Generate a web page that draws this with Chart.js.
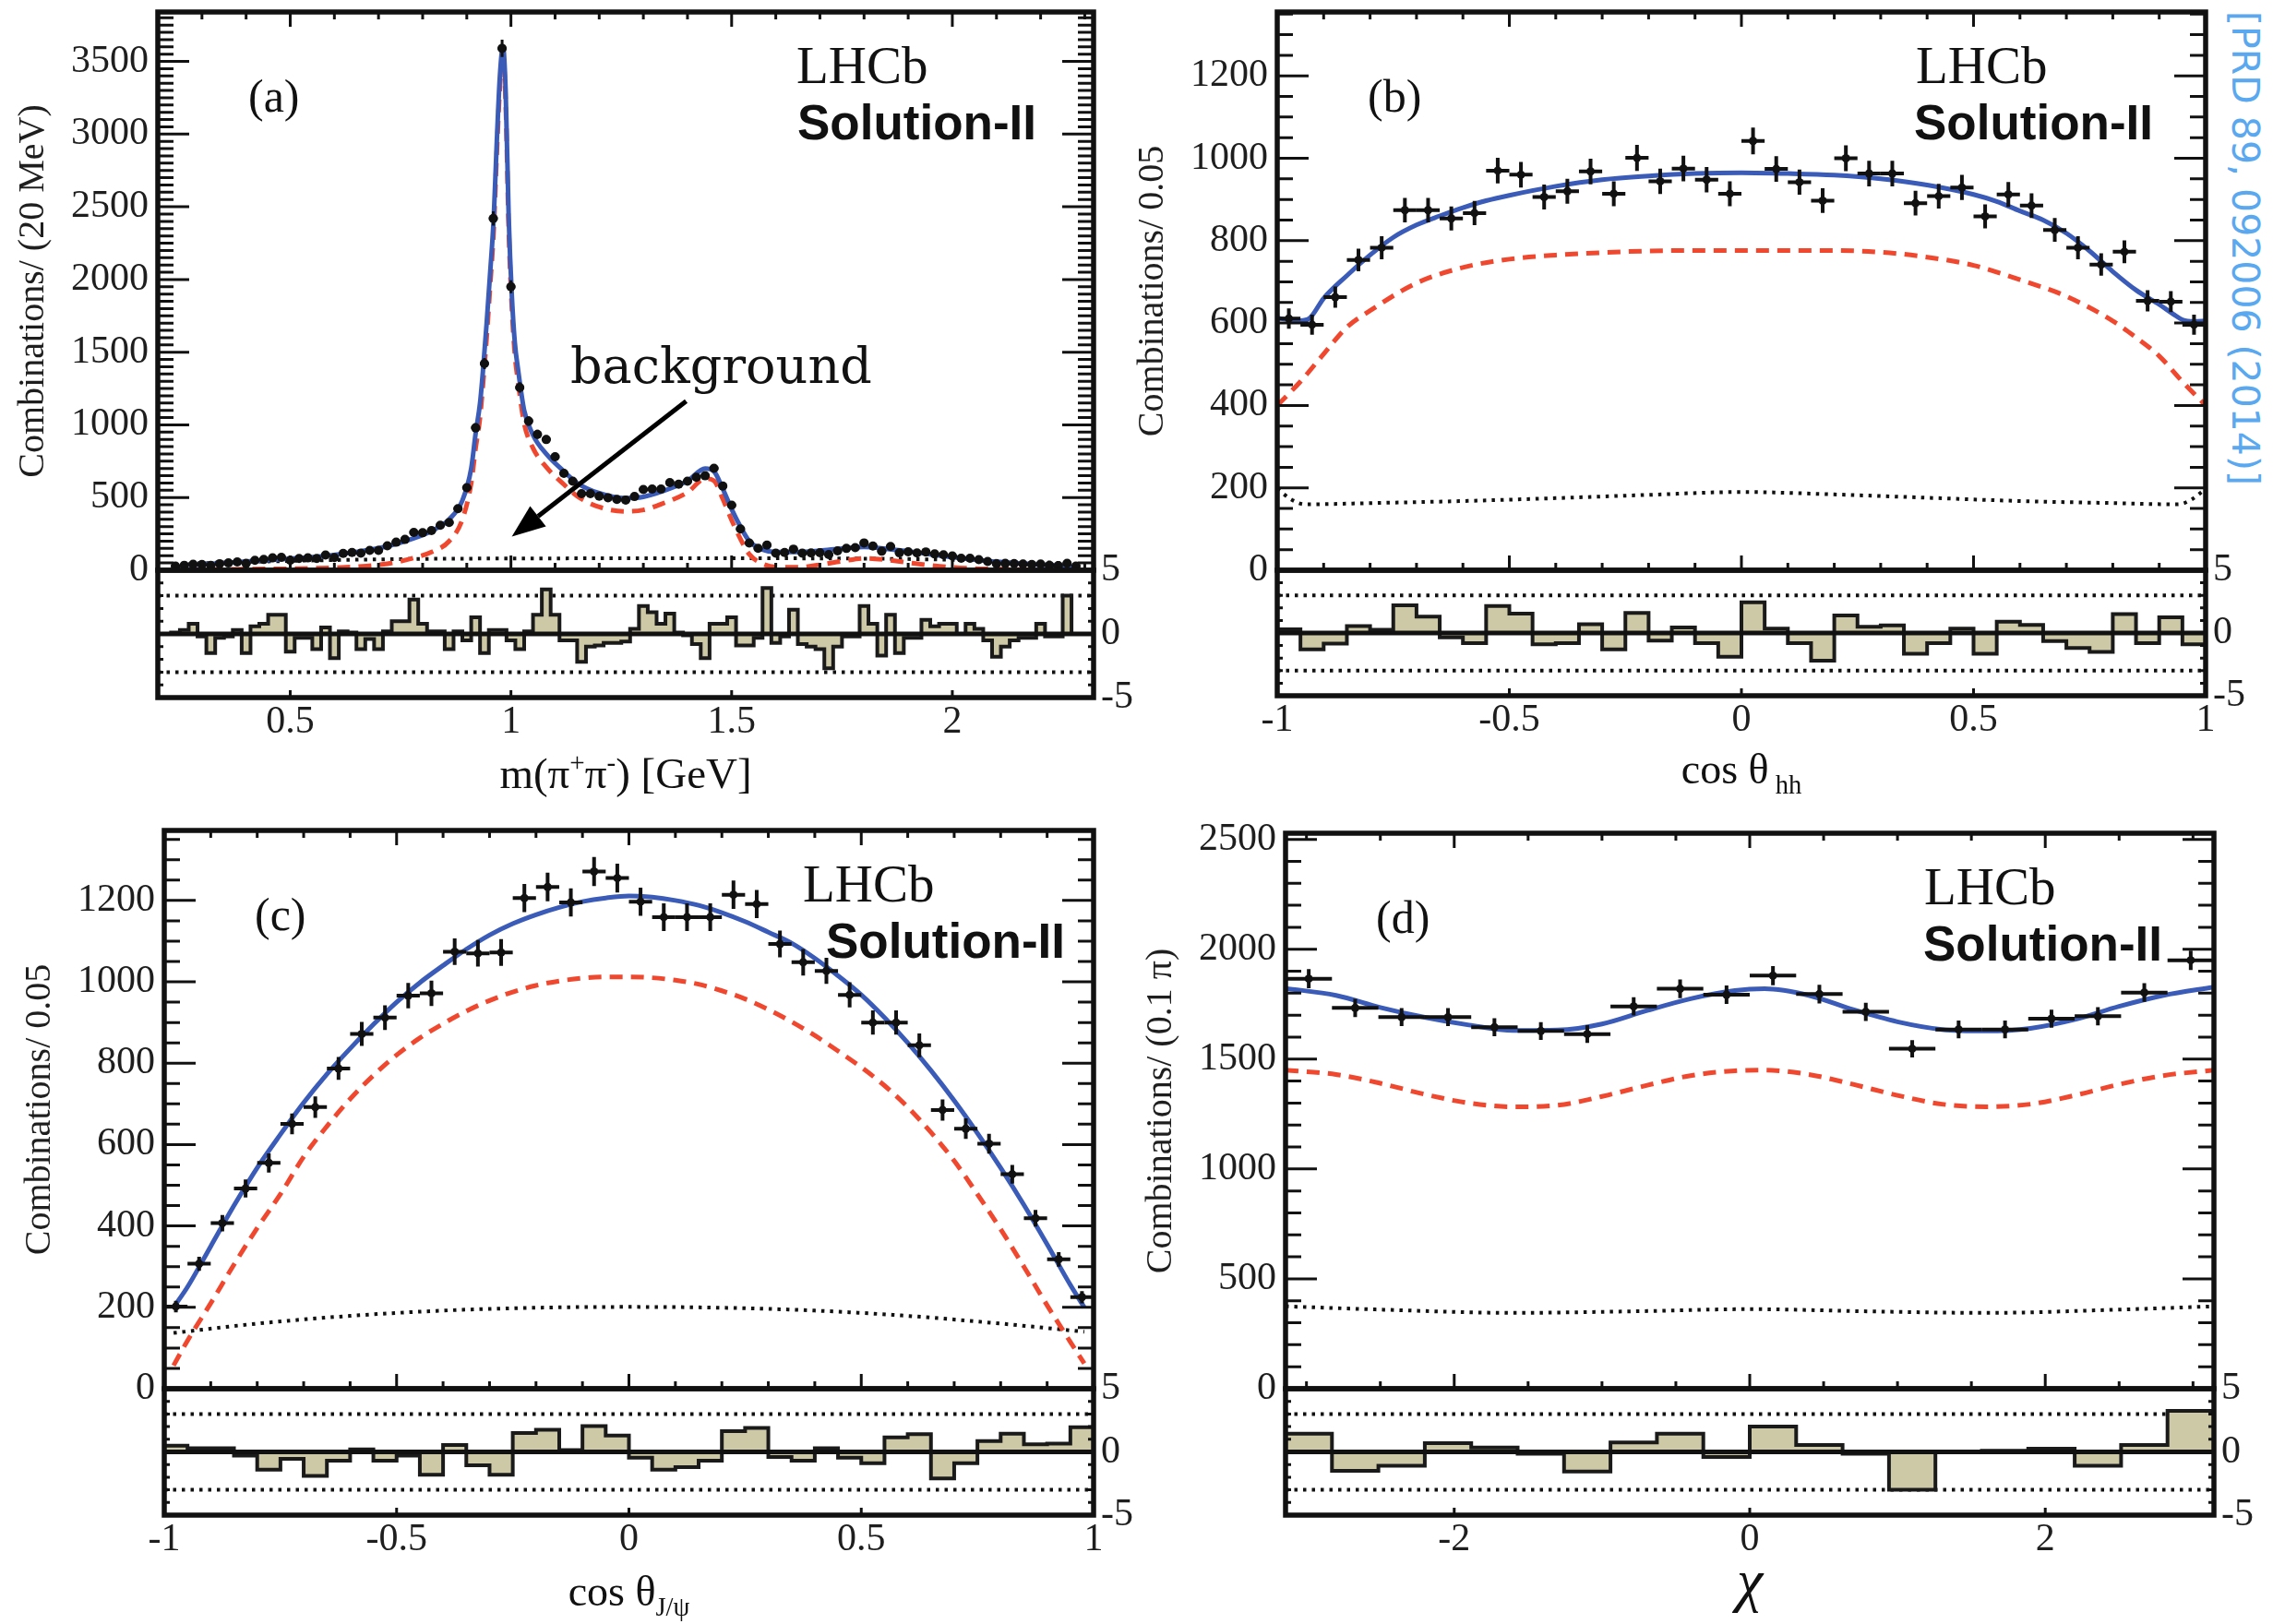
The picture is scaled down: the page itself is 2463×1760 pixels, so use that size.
<!DOCTYPE html>
<html>
<head>
<meta charset="utf-8">
<title>LHCb fit projections, Solution-II</title>
<script src="https://cdn.jsdelivr.net/npm/chart.js@4.4.1/dist/chart.umd.min.js"></script>
<style>
  html, body { margin: 0; padding: 0; background: #fff; }
  #page { position: relative; width: 2463px; height: 1760px; overflow: hidden; background: #fff; }
  #page canvas { position: absolute; }
  #ref {
    position: absolute; left: 2453px; top: 12px;
    font: 41px "DejaVu Sans", sans-serif; line-height: 1; color: #5aa9f0;
    white-space: nowrap; transform-origin: 0 0; transform: rotate(90deg);
  }
</style>
</head>
<body>
<div id="page"><div id="ref">[PRD 89, 092006 (2014)]</div></div>
<script>
// ---------- (a) m(pi+pi-) ----------
const massLo = 0.23, massBinW = 0.02;
const massCounts = [29, 34, 41, 39, 33, 45, 50, 57, 47, 68,
  74, 85, 89, 68, 81, 85, 81, 105, 87, 116,
  122, 117, 136, 137, 168, 193, 212, 260, 258, 273,
  309, 328, 424, 568, 980, 1422, 2420, 3590, 1950, 1257,
  1026, 935, 899, 781, 667, 612, 527, 527, 509, 499,
  487, 483, 507, 555, 559, 559, 603, 592, 613, 639,
  650, 701, 579, 447, 284, 187, 151, 173, 117, 122,
  145, 117, 119, 121, 108, 133, 150, 155, 188, 167,
  131, 164, 120, 127, 119, 126, 112, 106, 98, 83,
  83, 73, 60, 44, 47, 46, 43, 40, 43, 34,
  32, 48, 29];
const massPulls = [0.1, 0.3, 0.8, -0.2, -1.5, -0.3, -0.2, 0.3, -1.5, 0.6,
  0.8, 1.5, 1.5, -1.4, -0.3, -0.3, -1.2, 0.5, -1.9, 0.2,
  0.1, -1.2, -0.4, -1.2, 0.2, 1.0, 1.0, 2.7, 0.8, 0.2,
  0.2, -1.2, 0.2, -0.5, 1.3, -1.5, 0.3, 0.3, -0.5, -1.2,
  0.2, 1.5, 3.5, 1.5, -0.5, -0.5, -2.2, -1.0, -0.9, -0.7,
  -0.7, -0.6, 0.4, 2.2, 1.7, 0.8, 1.6, 0.1, -0.1, -0.8,
  -1.9, 0.8, 0.8, 1.3, -0.9, -0.9, -0.3, 3.6, -0.7, -0.2,
  1.9, -0.8, -1.0, -1.2, -2.7, -1.0, -0.2, -0.2, 2.2, 0.8,
  -1.7, 1.5, -1.5, -0.3, -0.3, 1.1, 0.6, 0.8, 0.8, 0.0,
  0.8, 0.4, -0.5, -1.8, -1.0, -0.5, -0.3, -0.3, 0.8, -0.2,
  -0.2, 3.0, 0.0];
const massCurveX = [0.27, 0.35, 0.45, 0.55, 0.65, 0.72, 0.78, 0.82, 0.86, 0.89,
  0.91, 0.92, 0.93, 0.937, 0.945, 0.953, 0.961, 0.968, 0.975, 0.982,
  0.988, 0.995, 1.002, 1.009, 1.016, 1.03, 1.05, 1.08, 1.12, 1.15,
  1.2, 1.26, 1.3, 1.34, 1.4, 1.44, 1.46, 1.48, 1.5, 1.52,
  1.54, 1.57, 1.6, 1.65, 1.7, 1.75, 1.8, 1.85, 1.9, 1.95,
  2.0, 2.05, 2.1, 2.15, 2.2, 2.27];
const massTotal = [35, 50, 70, 90, 126, 165, 220, 270, 350, 480,
  700, 940, 1150, 1385, 1700, 2050, 2424, 2950, 3400, 3600,
  3300, 2424, 1893, 1560, 1385, 1100, 930, 800, 680, 600,
  530, 496, 505, 540, 615, 700, 680, 560, 420, 300,
  200, 142, 125, 125, 135, 150, 160, 148, 130, 110,
  90, 73, 58, 47, 38, 30];
const massSignal = [4, 6, 9, 13, 25, 45, 85, 125, 200, 350,
  600, 840, 1050, 1290, 1600, 1960, 2340, 2870, 3320, 3530,
  3220, 2340, 1810, 1480, 1300, 1010, 840, 710, 590, 510,
  435, 405, 415, 455, 535, 630, 615, 490, 345, 215,
  110, 45, 22, 20, 38, 62, 82, 72, 52, 34,
  20, 12, 8, 5, 3, 2];
const massBkgX = [0.27, 0.4, 0.6, 0.8, 1.0, 1.2, 1.4, 1.6, 1.8, 2.0, 2.2, 2.27];
const massBkg = [45, 57, 70, 78, 81, 82, 83, 82, 80, 72, 55, 48];

// ---------- (b) cos theta_hh ----------
const cosLo = -1, cosBinW = 0.05;
const hhCounts = [611, 596, 663, 753, 783, 874, 874, 854, 867, 970,
  960, 906, 920, 968, 914, 1001, 944, 975, 948, 914,
  1042, 974, 942, 897, 1000, 963, 963, 891, 908, 929,
  859, 912, 885, 826, 783, 742, 773, 654, 652, 596];
const hhPulls = [0.3, -1.3, -0.85, 0.55, 0.25, 2.2, 1.3, -0.35, -0.8, 2.15,
  1.55, -0.9, -0.8, 0.7, -1.3, 1.6, -0.6, 0.45, -0.8, -1.9,
  2.45, 0.35, -0.8, -2.2, 1.4, 0.5, 0.6, -1.65, -0.8, 0.35,
  -1.65, 0.9, 0.65, -0.65, -1.2, -1.5, 1.5, -0.8, 1.25, -0.9];
const hhCurveX = [-1, -0.975, -0.95, -0.93, -0.9, -0.85, -0.8, -0.75, -0.7, -0.65,
  -0.6, -0.55, -0.5, -0.4, -0.3, -0.2, -0.1, 0, 0.1, 0.2,
  0.3, 0.4, 0.5, 0.55, 0.6, 0.65, 0.7, 0.75, 0.8, 0.85,
  0.9, 0.93, 0.95, 0.975, 1];
const hhTotal = [612, 608, 606, 612, 660, 715, 765, 808, 838, 860,
  880, 897, 910, 932, 948, 957, 963, 965, 963, 959,
  950, 935, 912, 895, 872, 850, 818, 775, 725, 680,
  645, 622, 608, 604, 605];
const hhSigX = [-1, -0.95, -0.9, -0.85, -0.8, -0.7, -0.6, -0.5, -0.4, -0.3, -0.2, -0.1, 0,
  0.1, 0.2, 0.3, 0.4, 0.5, 0.6, 0.7, 0.8, 0.85, 0.9, 0.95, 1];
const hhSignal = [400, 458, 525, 590, 630, 697, 735, 755, 765, 771, 775, 776, 776,
  776, 776, 772, 760, 740, 705, 665, 605, 565, 520, 458, 400];
const hhBkgX = [-1, -0.97, -0.94, -0.8, -0.6, -0.4, -0.2, 0, 0.2, 0.4, 0.6, 0.8, 0.94, 0.97, 1];
const hhBkg = [198, 172, 160, 163, 168, 175, 183, 190, 184, 176, 168, 163, 160, 172, 198];

// ---------- (c) cos theta_J/psi ----------
const psiCounts = [202, 307, 407, 492, 555, 651, 692, 787, 872, 912,
  966, 972, 1074, 1070, 1072, 1206, 1233, 1195, 1271, 1255,
  1197, 1159, 1159, 1159, 1214, 1191, 1093, 1048, 1027, 968,
  900, 900, 844, 685, 639, 602, 527, 419, 318, 225];
const psiPulls = [0.5, 0.3, 0.3, -0.3, -1.4, -0.55, -1.9, -0.7, 0.2, -0.7,
  -0.3, -1.8, 0.55, -1.05, -1.8, 1.5, 1.75, 0.15, 2.05, 1.3,
  -0.45, -1.4, -1.2, -0.7, 1.65, 1.9, -0.4, -0.7, 0.3, -0.45,
  -0.9, 1.15, 1.4, -2.1, -0.9, 0.85, 1.45, 0.6, 0.65, 1.95];
const psiCurveX = [-0.98, -0.95, -0.9, -0.85, -0.8, -0.75, -0.7, -0.65, -0.6, -0.55,
  -0.5, -0.45, -0.4, -0.35, -0.3, -0.25, -0.2, -0.15, -0.1, -0.05,
  0, 0.05, 0.1, 0.15, 0.2, 0.25, 0.3, 0.35, 0.4, 0.45,
  0.5, 0.55, 0.6, 0.65, 0.7, 0.75, 0.8, 0.85, 0.9, 0.95, 0.98];
const psiTotal = [200, 250, 350, 450, 543, 625, 703, 773, 836, 895,
  950, 998, 1040, 1080, 1115, 1143, 1165, 1183, 1197, 1206,
  1211, 1208, 1200, 1188, 1170, 1148, 1122, 1095, 1058, 1015,
  968, 912, 850, 782, 708, 628, 543, 452, 355, 255, 200];
const psiSignal = [57, 118, 210, 305, 395, 478, 570, 645, 712, 770,
  820, 862, 897, 928, 954, 975, 991, 1002, 1009, 1012,
  1012, 1010, 1004, 994, 978, 958, 932, 902, 868, 830,
  790, 745, 692, 630, 560, 478, 392, 300, 205, 115, 62];
const psiBkgX = [-0.98, -0.8, -0.6, -0.4, -0.2, 0, 0.2, 0.4, 0.6, 0.8, 0.98];
const psiBkg = [137, 160, 179, 192, 199, 201, 199, 192, 179, 160, 140];

// ---------- (d) chi ----------
const chiLo = -Math.PI, chiBinW = Math.PI / 10;
const chiCounts = [1866, 1733, 1691, 1691, 1645, 1628, 1614, 1740, 1820, 1793,
  1880, 1796, 1715, 1547, 1635, 1635, 1684, 1695, 1803, 1950];
const chiPulls = [1.45, -1.5, -1.1, 0.7, 0.35, -0.15, -1.55, 0.75, 1.45, -0.4,
  2.0, 0.55, -0.15, -3.0, 0.0, 0.1, 0.25, -1.1, 0.55, 3.25];
const chiCurveX = [-3.1416, -2.8, -2.5, -2.2, -1.9, -1.6, -1.3, -1.0, -0.7, -0.4, -0.1,
  0.1, 0.4, 0.7, 1.0, 1.3, 1.6, 1.9, 2.2, 2.5, 2.8, 3.1416];
const chiTotal = [1822, 1790, 1735, 1690, 1655, 1630, 1632, 1660, 1720, 1775, 1812,
  1820, 1790, 1725, 1670, 1635, 1628, 1640, 1680, 1740, 1790, 1828];
const chiSignal = [1450, 1430, 1390, 1340, 1300, 1283, 1290, 1330, 1380, 1425, 1447,
  1450, 1430, 1385, 1335, 1295, 1283, 1295, 1335, 1385, 1425, 1450];
const chiBkgX = [-3.1416, -2.5, -1.6, -0.8, 0, 0.8, 1.6, 2.5, 3.1416];
const chiBkg = [375, 360, 345, 352, 362, 352, 345, 360, 375];

// ---------- styling ----------
const C_FIT = '#3a5bb7';
const C_SIG = '#f0472f';
const C_INK = '#111111';
const C_PULL = '#cdc8a6';
const SERIF = "'Liberation Serif', 'Times New Roman', serif";
const SANS = "'Liberation Sans', Arial, sans-serif";
const SLAB = "'DejaVu Serif', serif";

Chart.defaults.font.family = SERIF;
Chart.defaults.color = '#1e1e1e';

const binCenters = (lo, w, n) => Array.from({ length: n }, (_, i) => lo + w * (i + 0.5));
const pts = (xs, ys) => xs.map((x, i) => ({ x, y: ys[i] }));

// pull histogram as a step outline: left bin edges, closed down to zero at both ends
function pullSteps(lo, w, pulls) {
  const p = [{ x: lo, y: 0 }];
  pulls.forEach((v, i) => p.push({ x: lo + w * i, y: v }));
  p.push({ x: lo + w * pulls.length, y: pulls[pulls.length - 1] });
  p.push({ x: lo + w * pulls.length, y: 0 });
  return p;
}

// pin an axis to a fixed thickness so all panels line up
function fixSize(size) {
  return scale => {
    if (scale.isHorizontal()) scale.height = size; else scale.width = size;
    scale.paddingTop = scale.paddingBottom = scale.paddingLeft = scale.paddingRight = 0;
  };
}

// labelled ticks at exact multiples of the step (Chart.js would stretch the step to fit min/max)
function stepTicks(step) {
  return scale => {
    const t = [];
    for (let i = Math.ceil(scale.min / step - 1e-9); i * step <= scale.max + 1e-9; i++) {
      t.push({ value: +(i * step).toFixed(6) });
    }
    scale.ticks = t;
  };
}

function drawRich(ctx, parts, x, y, it, align) {
  const pre = `${it.style || 'normal'} ${it.weight || 'normal'}`;
  const segs = parts.map(p => {
    const s = (p.sup || p.sub) ? it.size * 0.62 : it.size;
    ctx.font = `${pre} ${s}px ${it.font}`;
    return { p, s, w: ctx.measureText(p.t).width };
  });
  const total = segs.reduce((t, q) => t + q.w, 0);
  let cx = align === 'center' ? x - total / 2 : x;
  segs.forEach(q => {
    ctx.font = `${pre} ${q.s}px ${it.font}`;
    const dy = q.p.sup ? -it.size * 0.38 : q.p.sub ? it.size * 0.24 : 0;
    ctx.fillText(q.p.t, cx, y + dy);
    cx += q.w;
  });
}

// Poisson error bars on the data points
const errorBars = {
  id: 'errorBars',
  afterDatasetsDraw(chart) {
    const { ctx, chartArea: a, scales: { x, y } } = chart;
    ctx.save();
    ctx.beginPath();
    ctx.rect(a.left, a.top, a.right - a.left, a.bottom - a.top);
    ctx.clip();
    chart.data.datasets.forEach(ds => {
      if (ds.xErr === undefined) return;
      ctx.strokeStyle = C_INK;
      ctx.lineWidth = ds.errWidth;
      ds.data.forEach(p => {
        const e = Math.sqrt(p.y);
        const px = x.getPixelForValue(p.x), py = y.getPixelForValue(p.y);
        ctx.beginPath();
        ctx.moveTo(x.getPixelForValue(p.x - ds.xErr), py);
        ctx.lineTo(x.getPixelForValue(p.x + ds.xErr), py);
        ctx.moveTo(px, y.getPixelForValue(p.y - e));
        ctx.lineTo(px, y.getPixelForValue(p.y + e));
        ctx.stroke();
      });
    });
    ctx.restore();
  }
};

// ROOT-like frame: thick box, ticks pointing inwards, pull reference lines
const rootFrame = {
  id: 'rootFrame',
  beforeDatasetsDraw(chart, args, o) {
    if (!o.pull) return;
    const { ctx, chartArea: a, scales: { y } } = chart;
    ctx.save();
    ctx.strokeStyle = C_INK;
    ctx.lineWidth = 4;
    ctx.setLineDash([3.5, 6]);
    [-3, 3].forEach(v => {
      const py = y.getPixelForValue(v);
      ctx.beginPath(); ctx.moveTo(a.left, py); ctx.lineTo(a.right, py); ctx.stroke();
    });
    ctx.restore();
  },
  afterDatasetsDraw(chart, args, o) {
    if (!o.pull) return;
    const { ctx, chartArea: a, scales: { y } } = chart;
    const py = y.getPixelForValue(0);
    ctx.save();
    ctx.strokeStyle = C_INK;
    ctx.lineWidth = 5;
    ctx.beginPath(); ctx.moveTo(a.left, py); ctx.lineTo(a.right, py); ctx.stroke();
    ctx.restore();
  },
  afterDraw(chart, args, o) {
    const { ctx, chartArea: a, scales: { x, y } } = chart;
    const marks = (scale, step, fn) => {
      for (let i = Math.ceil(scale.min / step - 1e-6); i * step <= scale.max + 1e-6; i++) {
        fn(scale.getPixelForValue(i * step));
      }
    };
    ctx.save();
    ctx.strokeStyle = C_INK;
    ctx.lineWidth = 3;
    ctx.beginPath();
    (o.x || []).forEach(t => marks(x, t.step, px => {
      if (t.top) { ctx.moveTo(px, a.top); ctx.lineTo(px, a.top + t.len); }
      if (t.bottom) { ctx.moveTo(px, a.bottom); ctx.lineTo(px, a.bottom - t.len); }
    }));
    (o.y || []).forEach(t => marks(y, t.step, py => {
      ctx.moveTo(a.left, py); ctx.lineTo(a.left + t.len, py);
      ctx.moveTo(a.right, py); ctx.lineTo(a.right - t.len, py);
    }));
    ctx.stroke();
    ctx.lineWidth = 5.5;
    ctx.strokeRect(a.left, a.top, a.right - a.left, a.bottom - a.top);
    ctx.restore();
  }
};

// labels placed relative to the plot frame, plus the arrow annotation
const panelText = {
  id: 'panelText',
  afterDraw(chart, args, o) {
    const { ctx, chartArea: a } = chart;
    ctx.save();
    ctx.textBaseline = 'alphabetic';
    (o.items || []).forEach(it => {
      ctx.fillStyle = it.color || C_INK;
      const x = it.center ? (a.left + a.right) / 2 : a.left + it.dx;
      const y = (it.fromBottom ? a.bottom : a.top) + it.dy;
      drawRich(ctx, it.parts || [{ t: it.text }], x, y, it, it.center ? 'center' : 'left');
    });
    if (o.arrow) {
      const { x: xs, y: ys } = chart.scales;
      const x1 = xs.getPixelForValue(o.arrow.from.x), y1 = ys.getPixelForValue(o.arrow.from.y);
      const x2 = xs.getPixelForValue(o.arrow.to.x), y2 = ys.getPixelForValue(o.arrow.to.y);
      const ang = Math.atan2(y2 - y1, x2 - x1), hl = 36, hw = 14;
      const bx = x2 - hl * Math.cos(ang), by = y2 - hl * Math.sin(ang);
      ctx.strokeStyle = ctx.fillStyle = '#000';
      ctx.lineWidth = 5;
      ctx.beginPath(); ctx.moveTo(x1, y1); ctx.lineTo(bx, by); ctx.stroke();
      ctx.beginPath();
      ctx.moveTo(x2, y2);
      ctx.lineTo(bx + hw * Math.sin(ang), by - hw * Math.cos(ang));
      ctx.lineTo(bx - hw * Math.sin(ang), by + hw * Math.cos(ang));
      ctx.closePath();
      ctx.fill();
    }
    ctx.restore();
  }
};

const page = document.getElementById('page');
function addCanvas(x, y, w, h) {
  const c = document.createElement('canvas');
  c.width = w; c.height = h;
  c.style.left = x + 'px'; c.style.top = y + 'px';
  c.style.width = w + 'px'; c.style.height = h + 'px';
  page.appendChild(c);
  return c;
}

const Y_AXIS_W = 171;
const tickFmt = v => String(v);

function buildPanel(p) {
  const g = p.frame;
  const x0 = g.l - Y_AXIS_W;

  // upper part: data, fit components
  const my0 = g.t - 13;
  const mainCanvas = addCanvas(x0, my0, g.r - x0 + 30, g.b - my0 + 30);
  new Chart(mainCanvas, {
    type: 'line',
    data: {
      datasets: [
        { label: 'Data', data: pts(p.binX, p.counts), showLine: false, pointRadius: p.dotR,
          pointBackgroundColor: C_INK, pointBorderWidth: 0, xErr: p.xErr, errWidth: p.errWidth },
        { label: 'Total fit', data: pts(p.curveX, p.total), borderColor: C_FIT, borderWidth: 5,
          pointRadius: 0, cubicInterpolationMode: 'monotone' },
        { label: 'Signal', data: pts(p.sigX, p.signal), borderColor: C_SIG, borderWidth: 5,
          borderDash: [14, 9], pointRadius: 0, cubicInterpolationMode: 'monotone' },
        { label: 'Background', data: pts(p.bkgX, p.bkg), borderColor: C_INK, borderWidth: 4,
          borderDash: [3.5, 6], pointRadius: 0, cubicInterpolationMode: 'monotone' }
      ]
    },
    options: {
      responsive: false, animation: false, devicePixelRatio: 1, events: [],
      layout: { padding: { left: 0, top: g.t - my0, right: 30, bottom: 30 } },
      plugins: {
        legend: { display: false }, tooltip: { enabled: false },
        rootFrame: {
          x: [{ step: p.xStep, len: 16, top: true, bottom: true }, { step: p.xMinor, len: 8, top: true, bottom: true }],
          y: [{ step: p.yStep, len: 34 }, { step: p.yMinor, len: 17 }]
        },
        panelText: { items: p.texts, arrow: p.arrow }
      },
      scales: {
        x: { type: 'linear', min: p.xMin, max: p.xMax, display: false },
        y: {
          type: 'linear', min: 0, max: p.yMax, afterFit: fixSize(Y_AXIS_W),
          afterBuildTicks: stepTicks(p.yStep),
          grid: { display: false, drawTicks: false }, border: { display: false },
          ticks: { padding: 10, autoSkip: false, font: { size: 42 }, callback: tickFmt },
          title: { display: true, text: p.yTitle, font: { size: 40 }, padding: { top: 12, bottom: 0 } }
        }
      }
    },
    plugins: [errorBars, rootFrame, panelText]
  });

  // lower part: pulls
  const ry0 = g.b - 40;
  const pullCanvas = addCanvas(x0, ry0, g.r - x0 + 80, g.rb - ry0 + 130);
  new Chart(pullCanvas, {
    type: 'line',
    data: {
      datasets: [
        { label: 'Pull', data: pullSteps(p.binLo, p.binW, p.pulls), stepped: true, fill: 'origin',
          backgroundColor: C_PULL, borderColor: '#1a1a1a', borderWidth: 4, borderJoinStyle: 'miter',
          pointRadius: 0 }
      ]
    },
    options: {
      responsive: false, animation: false, devicePixelRatio: 1, events: [],
      layout: { padding: { left: Y_AXIS_W, top: 40, right: 0, bottom: 0 } },
      plugins: {
        legend: { display: false }, tooltip: { enabled: false },
        rootFrame: {
          pull: true,
          x: [{ step: p.xStep, len: 8, bottom: true }],
          y: [{ step: 1, len: 6 }]
        },
        panelText: { items: [{ parts: p.xTitle, center: true, fromBottom: true, dy: p.xTitleDy,
          font: SERIF, size: p.xTitleSize, style: p.xTitleStyle }] }
      },
      scales: {
        x: {
          type: 'linear', min: p.xMin, max: p.xMax, afterFit: fixSize(130),
          afterBuildTicks: stepTicks(p.xStep),
          grid: { display: false, drawTicks: false }, border: { display: false },
          ticks: { padding: 2, autoSkip: false, maxRotation: 0, font: { size: 42 }, callback: tickFmt }
        },
        y: {
          type: 'linear', position: 'right', min: -5, max: 5, afterFit: fixSize(80),
          afterBuildTicks: stepTicks(5),
          grid: { display: false, drawTicks: false }, border: { display: false },
          ticks: { padding: 8, autoSkip: false, font: { size: 42 }, callback: tickFmt }
        }
      }
    },
    plugins: [rootFrame, panelText]
  });
}

function cornerTexts(tag, solutionDx) {
  return [
    { text: tag, dx: 98, dy: 108, font: SERIF, size: 50 },
    { text: 'LHCb', dx: 692, dy: 77, font: SERIF, size: 57 },
    { text: 'Solution-II', dx: solutionDx, dy: 138, font: SANS, size: 53, weight: 'bold' }
  ];
}

buildPanel({
  frame: { l: 171, t: 13, r: 1185, b: 618, rb: 756 },
  xMin: 0.2, xMax: 2.32, xStep: 0.5, xMinor: 0.1,
  yMax: 3840, yStep: 500, yMinor: 50,
  yTitle: 'Combinations/ (20 MeV)',
  xTitle: [{ t: 'm(π' }, { t: '+', sup: true }, { t: 'π' }, { t: '-', sup: true }, { t: ') [GeV]' }],
  xTitleDy: 98, xTitleSize: 47,
  binLo: massLo, binW: massBinW, binX: binCenters(massLo, massBinW, massCounts.length),
  counts: massCounts, pulls: massPulls, xErr: massBinW / 2, errWidth: 3, dotR: 5,
  curveX: massCurveX, total: massTotal, sigX: massCurveX, signal: massSignal,
  bkgX: massBkgX, bkg: massBkg,
  texts: cornerTexts('(a)', 693).concat([{ text: 'background', dx: 447, dy: 402, font: SLAB, size: 54 }]),
  arrow: { from: { x: 1.397, y: 1163 }, to: { x: 1.002, y: 231 } }
});

buildPanel({
  frame: { l: 1384, t: 13, r: 2390, b: 618, rb: 754 },
  xMin: -1, xMax: 1, xStep: 0.5, xMinor: 0.1,
  yMax: 1355, yStep: 200, yMinor: 50,
  yTitle: 'Combinations/ 0.05',
  xTitle: [{ t: 'cos θ' }, { t: ' hh', sub: true }],
  xTitleDy: 95, xTitleSize: 46,
  binLo: cosLo, binW: cosBinW, binX: binCenters(cosLo, cosBinW, hhCounts.length),
  counts: hhCounts, pulls: hhPulls, xErr: cosBinW / 2, errWidth: 4, dotR: 4.5,
  curveX: hhCurveX, total: hhTotal, sigX: hhSigX, signal: hhSignal,
  bkgX: hhBkgX, bkg: hhBkg,
  texts: cornerTexts('(b)', 690)
});

buildPanel({
  frame: { l: 178, t: 900, r: 1185, b: 1505, rb: 1642 },
  xMin: -1, xMax: 1, xStep: 0.5, xMinor: 0.1,
  yMax: 1372, yStep: 200, yMinor: 50,
  yTitle: 'Combinations/ 0.05',
  xTitle: [{ t: 'cos θ' }, { t: 'J/ψ', sub: true }],
  xTitleDy: 98, xTitleSize: 46,
  binLo: cosLo, binW: cosBinW, binX: binCenters(cosLo, cosBinW, psiCounts.length),
  counts: psiCounts, pulls: psiPulls, xErr: cosBinW / 2, errWidth: 4, dotR: 4.5,
  curveX: psiCurveX, total: psiTotal, sigX: psiCurveX, signal: psiSignal,
  bkgX: psiBkgX, bkg: psiBkg,
  texts: cornerTexts('(c)', 717)
});

buildPanel({
  frame: { l: 1393, t: 903, r: 2399, b: 1505, rb: 1642 },
  xMin: -Math.PI, xMax: Math.PI, xStep: 2, xMinor: 0.5,
  yMax: 2528, yStep: 500, yMinor: 100,
  yTitle: 'Combinations/ (0.1 π)',
  xTitle: [{ t: 'χ' }],
  xTitleDy: 92, xTitleSize: 64, xTitleStyle: 'italic',
  binLo: chiLo, binW: chiBinW, binX: binCenters(chiLo, chiBinW, chiCounts.length),
  counts: chiCounts, pulls: chiPulls, xErr: chiBinW / 2, errWidth: 4, dotR: 4.5,
  curveX: chiCurveX, total: chiTotal, sigX: chiCurveX, signal: chiSignal,
  bkgX: chiBkgX, bkg: chiBkg,
  texts: cornerTexts('(d)', 691)
});
</script>
</body>
</html>
